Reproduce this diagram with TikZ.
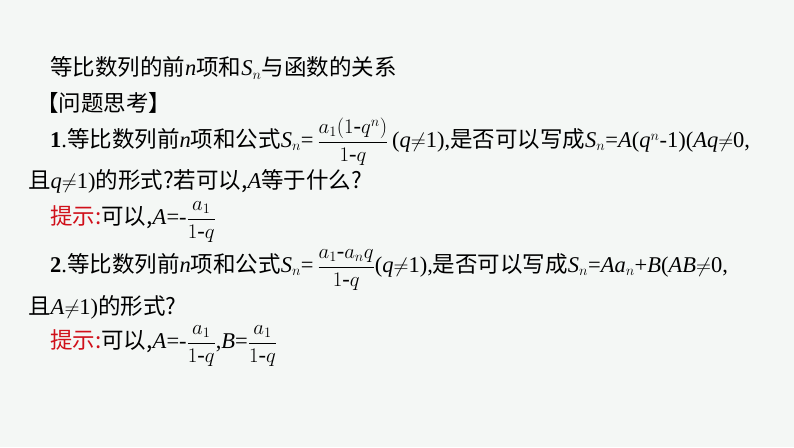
\documentclass[tikz,border=0pt]{standalone}
\usepackage{amsmath}
\usepackage{fontspec}
\setmainfont{Liberation Serif}
\newfontfamily\cjk{Noto Sans CJK SC}
\definecolor{bg}{HTML}{F4F7F5}
\definecolor{hint}{HTML}{D0101A}
\begin{document}
\begin{tikzpicture}[x=1pt,y=1pt,
  txt/.style={anchor=west,inner sep=0pt,font=\fontsize{22.5}{26}\selectfont}]
\fill[bg] (0,0) rectangle (794,-447);
\useasboundingbox (0,0) rectangle (794,-447);
\node[txt] (t) at (50,-68) {{\cjk 等比数列的前}\textit{n}{\cjk 项和}\textit{S}$_n${\cjk 与函数的关系}};
\node[txt] (q) at (36,-103) {\cjk 【问题思考】};
\node[txt] (l1) at (50,-142) {\textbf{1}.{\cjk 等比数列前}\textit{n}{\cjk 项和公式}\textit{S}$_n$=\,$\dfrac{a_1(1\text{-}q^n)}{1\text{-}q}$\,(\textit{q}$\neq$1),{\cjk 是否可以写成}\textit{S}$_n$=\textit{A}(\textit{q}$^n$-1)(\textit{Aq}$\neq$0,};
\node[txt] (l2) at (28,-181) {{\cjk 且}\textit{q}$\neq$1){\cjk 的形式?若可以,}\textit{A}{\cjk 等于什么?}};
\node[txt] (h1) at (50,-222) {{\cjk\color{hint}提示:}{\cjk 可以,}\textit{A}=-$\dfrac{a_1}{1\text{-}q}$};
\node[txt] (l3) at (50,-270) {\textbf{2}.{\cjk 等比数列前}\textit{n}{\cjk 项和公式}\textit{S}$_n$=\,$\dfrac{a_1\text{-}a_nq}{1\text{-}q}$(\textit{q}$\neq$1),{\cjk 是否可以写成}\textit{S}$_n$=\textit{Aa}$_n$+\textit{B}(\textit{AB}$\neq$0,};
\node[txt] (l4) at (28,-307) {{\cjk 且}\textit{A}$\neq$1){\cjk 的形式?}};
\node[txt] (h2) at (50,-346) {{\cjk\color{hint}提示:}{\cjk 可以,}\textit{A}=-$\dfrac{a_1}{1\text{-}q}$,\textit{B}=$\dfrac{a_1}{1\text{-}q}$};
\end{tikzpicture}
\end{document}
